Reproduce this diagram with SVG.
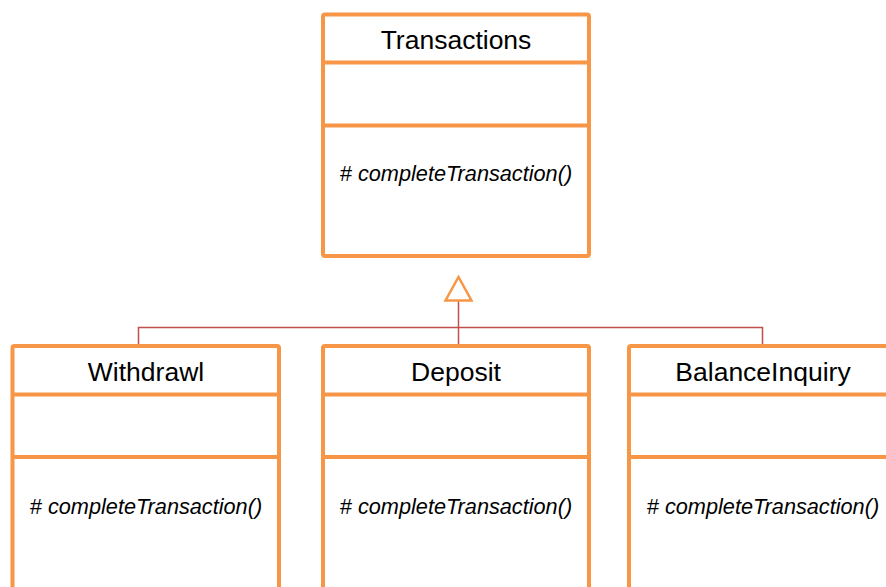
<svg xmlns="http://www.w3.org/2000/svg" width="886" height="587" viewBox="0 0 886 587">
  <style>
    .box { fill: #ffffff; stroke: #F79646; stroke-width: 4; }
    .div { stroke: #F79646; stroke-width: 4; }
    .name { font-family: "Liberation Sans", Arial, sans-serif; font-size: 26.5px; fill: #000000; text-anchor: middle; }
    .op { font-family: "Liberation Sans", Arial, sans-serif; font-size: 21.7px; fill: #000000; text-anchor: middle; }
    .op tspan.sig { font-style: italic; }
    .wire { fill: none; stroke: #C0504D; stroke-width: 1.5; }
    .head { fill: #ffffff; stroke: #F79646; stroke-width: 2.5; stroke-linejoin: miter; }
  </style>

  <!-- generalisation connectors -->
  <g id="connectors">
    <polyline class="wire" points="138.5,346 138.5,327.5 762.5,327.5 762.5,346"/>
    <line class="wire" x1="458.5" y1="300" x2="458.5" y2="346"/>
    <polygon class="head" points="458.5,277 445.5,300.5 471.5,300.5"/>
  </g>

  <g id="transactions">
    <rect class="box" x="323" y="14.5" width="266" height="241.5" rx="2"/>
    <line class="div" x1="323" y1="62.5" x2="589" y2="62.5"/>
    <line class="div" x1="323" y1="125.5" x2="589" y2="125.5"/>
    <text class="name" x="456" y="48.5">Transactions</text>
    <text class="op" x="456" y="180.5"># <tspan class="sig">completeTransaction()</tspan></text>
  </g>

  <g id="withdrawl">
    <rect class="box" x="12.5" y="346" width="266.5" height="260" rx="2"/>
    <line class="div" x1="12.5" y1="394.5" x2="279" y2="394.5"/>
    <line class="div" x1="12.5" y1="457" x2="279" y2="457"/>
    <text class="name" x="146" y="380.5">Withdrawl</text>
    <text class="op" x="146" y="513.5"># <tspan class="sig">completeTransaction()</tspan></text>
  </g>

  <g id="deposit">
    <rect class="box" x="323" y="346" width="266" height="260" rx="2"/>
    <line class="div" x1="323" y1="394.5" x2="589" y2="394.5"/>
    <line class="div" x1="323" y1="457" x2="589" y2="457"/>
    <text class="name" x="456" y="380.5">Deposit</text>
    <text class="op" x="456" y="513.5"># <tspan class="sig">completeTransaction()</tspan></text>
  </g>

  <g id="balanceinquiry">
    <rect class="box" x="629" y="346" width="266" height="260" rx="2"/>
    <line class="div" x1="629" y1="394.5" x2="895" y2="394.5"/>
    <line class="div" x1="629" y1="457" x2="895" y2="457"/>
    <text class="name" x="763" y="380.5">BalanceInquiry</text>
    <text class="op" x="763" y="513.5"># <tspan class="sig">completeTransaction()</tspan></text>
  </g>
</svg>
